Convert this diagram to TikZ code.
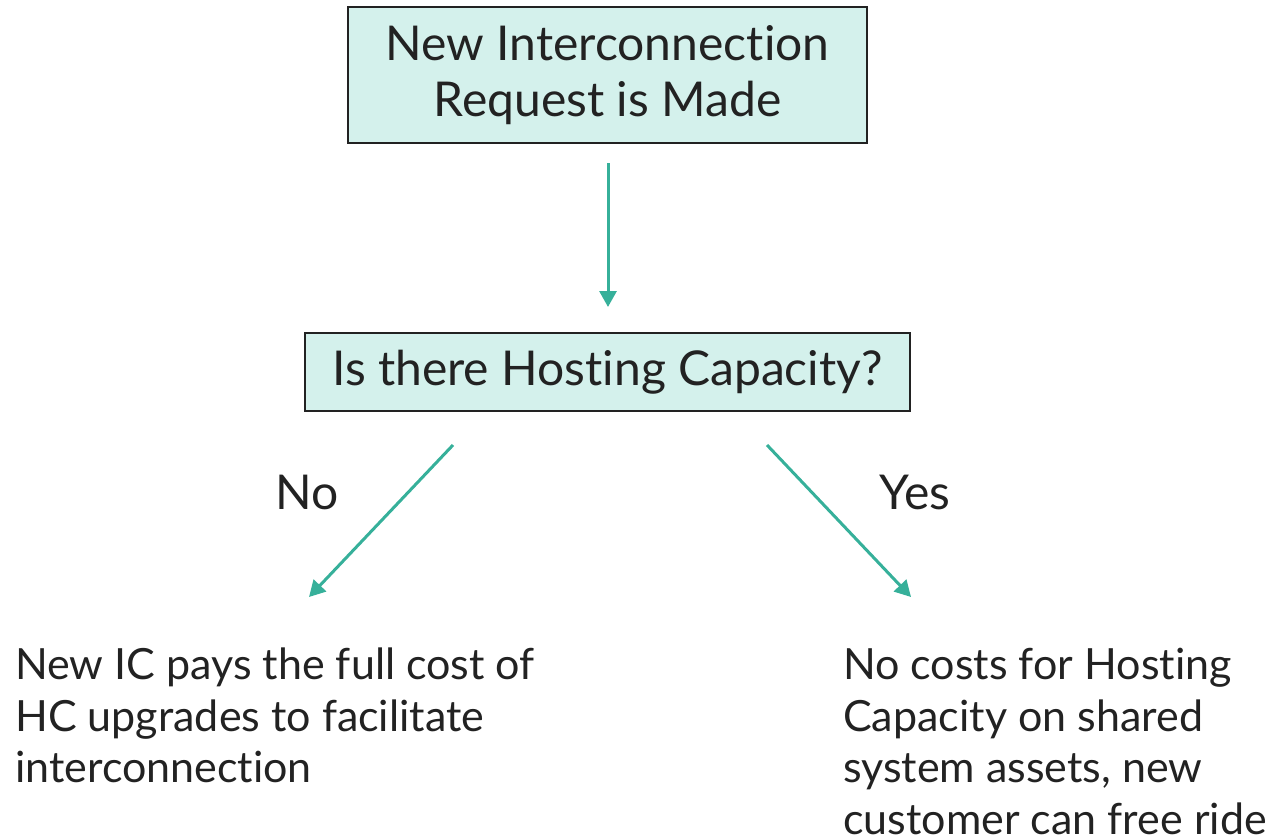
\documentclass[tikz,border=0pt]{standalone}
\usepackage{fontspec}
\setmainfont{Lato}[Ligatures=NoCommon]
\usetikzlibrary{positioning,arrows.meta}
\definecolor{boxfill}{HTML}{D4F1EC}
\definecolor{arrowteal}{HTML}{36B09A}
\definecolor{textdark}{HTML}{222222}
\tikzstyle{hc flow}=[
    x=1pt,y=-1pt,
    every node/.style={
        font=\fontsize{48}{56}\selectfont,
        text=textdark,
    },
    step box/.style={
        draw=textdark, line width=1.4pt, fill=boxfill,
        align=center, inner sep=0pt,
    },
    outcome/.style={
        align=left, anchor=north west, inner sep=0pt,
        font=\fontsize{43}{51.5}\selectfont,
    },
    flow arrow/.style={
        draw=arrowteal, fill=arrowteal, line width=3pt,
        -{Triangle[length=16pt,width=17pt]},
    },
]
\begin{document}
\begin{tikzpicture}[hc flow]
        \useasboundingbox (0,0) rectangle (1271,836);
        \node[step box, minimum width=519pt, minimum height=136pt] (request) at (607.5,75)
            {New Interconnection\\Request is Made};
        \node[step box, minimum width=605pt, minimum height=78pt] (capacity) at (607.5,372)
            {Is there Hosting Capacity?};
        \node[outcome] (payfull) at (15,648)
            {New IC pays the full cost of\\HC upgrades to facilitate\\interconnection};
        \node[outcome] (freeride) at (843,648)
            {No costs for Hosting\\Capacity on shared\\system assets, new\\customer can free ride};
        \node (no) at (307,492) {No};
        \node (yes) at (915,492) {Yes};

        \coordinate (a1) at (608,163);
        \coordinate (a2) at (608,307);
        \coordinate (l1) at (453,445);
        \coordinate (l2) at (309,597);
        \coordinate (r1) at (767,445);
        \coordinate (r2) at (911,597);

        \draw[flow arrow] (a1) -- (a2);
        \draw[flow arrow] (l1) -- (l2);
        \draw[flow arrow] (r1) -- (r2);
    \end{tikzpicture}
\end{document}
